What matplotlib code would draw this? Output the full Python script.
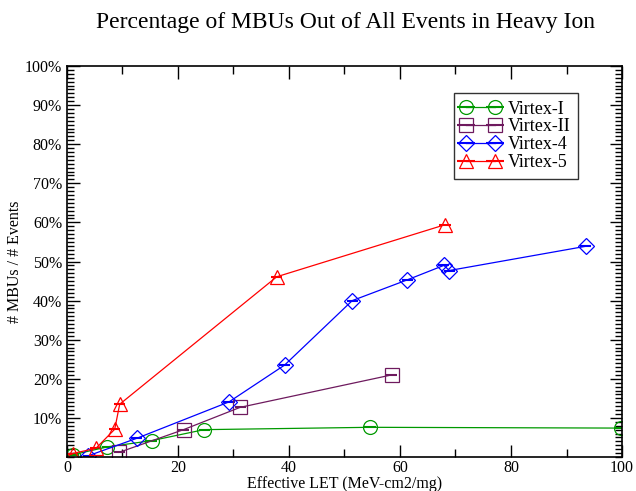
import matplotlib
matplotlib.use("Agg")
import matplotlib.pyplot as plt
from matplotlib.ticker import MultipleLocator, FixedLocator, FixedFormatter

# Data (Effective LET, % MBUs)
v1_x = [1.1, 7.3, 15.3, 24.7, 54.6, 99.8]
v1_y = [0.6, 2.6, 4.2, 7.0, 7.6, 7.4]
v2_x = [9.4, 21.0, 31.2, 58.5]
v2_y = [1.2, 7.0, 12.7, 21.0]
v4_x = [3.8, 12.6, 29.2, 39.2, 51.4, 61.3, 67.9, 68.9, 93.5]
v4_y = [0.3, 4.8, 14.1, 23.5, 40.0, 45.3, 49.0, 47.7, 53.9]
v5_x = [1.0, 5.2, 8.6, 9.5, 37.8, 68.1]
v5_y = [0.9, 2.2, 7.1, 13.5, 46.1, 59.4]
xerr_w = 1.0

series_names = ["Virtex-I", "Virtex-II", "Virtex-4", "Virtex-5"]
x_ticks = [0, 20, 40, 60, 80, 100]
y_ticks = [10, 20, 30, 40, 50, 60, 70, 80, 90, 100]
y_labels = ["10%", "20%", "30%", "40%", "50%", "60%", "70%", "80%", "90%", "100%"]

plt.rcParams['font.family'] = ['Liberation Serif', 'DejaVu Serif']

fig = plt.figure(figsize=(6.36, 4.91), dpi=100)
ax = fig.add_axes([0.1053, 0.0692, 0.8727, 0.7964])

styles = [
    (v1_x, v1_y, '#009900', 'o', 10),
    (v2_x, v2_y, '#6e1a5e', 's', 9.5),
    (v4_x, v4_y, '#0000ff', 'D', 8.5),
    (v5_x, v5_y, '#ff0000', '^', 10.5),
]
for (xs, ys, c, m, ms), name in zip(styles, series_names):
    ax.errorbar(xs, ys, xerr=[xerr_w] * len(xs), color=c, marker=m,
                markersize=ms, markerfacecolor='none', markeredgecolor=c,
                markeredgewidth=0.9, linewidth=0.9, elinewidth=1.5,
                capsize=0, label=name)

ax.set_xlim(0, 100)
ax.set_ylim(0, 100)
ax.xaxis.set_major_locator(FixedLocator(x_ticks))
ax.xaxis.set_minor_locator(MultipleLocator(10))
ax.yaxis.set_major_locator(FixedLocator(y_ticks))
ax.yaxis.set_major_formatter(FixedFormatter(y_labels))
ax.yaxis.set_minor_locator(MultipleLocator(1))
ax.tick_params(which='both', direction='in', top=True, right=True,
               labelsize=11.5, color='black')
ax.tick_params(which='major', length=9, width=1)
ax.tick_params(which='minor', length=5, width=1)
ax.tick_params(axis='x', which='minor', length=6)
ax.tick_params(axis='x', pad=2)
for s in ax.spines.values():
    s.set_linewidth(1.2)

ax.set_xlabel("Effective LET (MeV-cm2/mg)", fontsize=11.5, labelpad=0)
ax.set_ylabel("# MBUs / # Events", fontsize=11.5, labelpad=1)
fig.suptitle("Percentage of MBUs Out of All Events in Heavy Ion",
             x=0.543, y=0.975, fontsize=17)

leg = ax.legend(loc='upper left', bbox_to_anchor=(0.697, 0.93), numpoints=2,
                fontsize=13, frameon=True, fancybox=False, edgecolor='black',
                handlelength=2.2, handletextpad=0.4, borderpad=0.4,
                labelspacing=0.05, borderaxespad=0)
leg.get_frame().set_linewidth(1.0)

fig.savefig("out.png", dpi=100)
